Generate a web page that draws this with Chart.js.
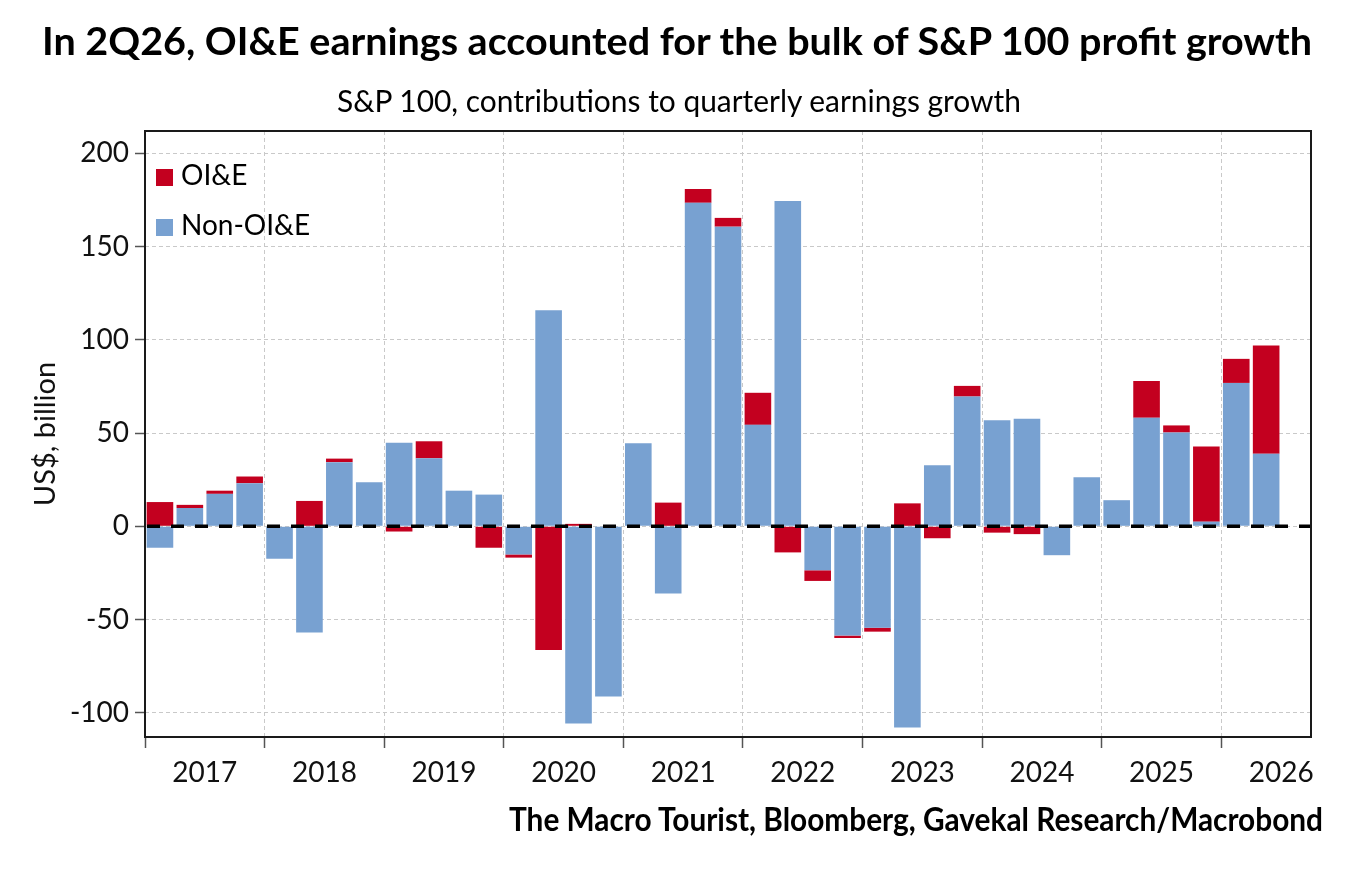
<!DOCTYPE html>
<html>
<head>
<meta charset="utf-8">
<script src="https://cdn.jsdelivr.net/npm/chart.js@4.4.1/dist/chart.umd.min.js"></script>
<style>
  body { margin: 0; background: #fff; }
  #wrap { position: relative; width: 1352px; height: 874px; overflow: hidden; font-family: Lato, "Open Sans", sans-serif; color: #000; }
  #wrap canvas { position: absolute; left: 0; top: 0; }
  .fit { position: absolute; white-space: nowrap; line-height: 1; transform-origin: 0 0; }
  #title { left: 42px; top: 21px; font-size: 38px; font-weight: 700; }
  #subtitle { left: 337px; top: 85px; font-size: 30px; }
  #source { left: 509px; top: 803px; font-size: 32px; font-weight: 700; }
  #legend { position: absolute; left: 156px; top: 160px; font-size: 28px; line-height: 1; }
  #legend div { position: relative; height: 50px; padding-left: 25px; white-space: nowrap; }
  #legend span { position: absolute; left: 0; top: 9px; width: 17px; height: 17px; }
</style>
</head>
<body>
<div id="wrap">
  <canvas id="chart" width="1352" height="874"></canvas>
  <div id="title" class="fit" data-w="1270">In 2Q26, OI&amp;E earnings accounted for the bulk of S&amp;P 100 profit growth</div>
  <div id="subtitle" class="fit" data-w="684">S&amp;P 100, contributions to quarterly earnings growth</div>
  <div id="legend">
    <div><span style="background:#c3001f"></span>OI&amp;E</div>
    <div><span style="background:#78a1d1"></span>Non-OI&amp;E</div>
  </div>
  <div id="source" class="fit" data-w="814">The Macro Tourist, Bloomberg, Gavekal Research/Macrobond</div>
</div>
<script>
var quarters = ['1Q17', '2Q17', '3Q17', '4Q17', '1Q18', '2Q18', '3Q18', '4Q18',
                '1Q19', '2Q19', '3Q19', '4Q19', '1Q20', '2Q20', '3Q20', '4Q20',
                '1Q21', '2Q21', '3Q21', '4Q21', '1Q22', '2Q22', '3Q22', '4Q22',
                '1Q23', '2Q23', '3Q23', '4Q23', '1Q24', '2Q24', '3Q24', '4Q24',
                '1Q25', '2Q25', '3Q25', '4Q25', '1Q26', '2Q26', '3Q26'];
var nonOie = [-11.5, 9.8, 17.4, 23.1, -17.4, -56.9, 34.4, 23.6,
              44.8, 36.5, 19.1, 17.0, -15.1, 115.9, -105.7, -91.3,
              44.6, -36.1, 173.5, 160.7, 54.4, 174.5, -23.6, -58.6,
              -54.4, -107.9, 32.7, 69.6, 56.9, 57.7, -15.5, 26.3,
              14.0, 58.2, 50.3, 2.5, 76.9, 38.9, null];
var oie = [13.0, 1.7, 1.7, 3.6, 0, 13.6, 1.9, 0,
           -2.8, 9.1, 0, -11.5, -1.7, -66.3, 1.3, 0,
           0, 12.7, 7.4, 4.7, 17.2, -14.0, -5.7, -1.3,
           -2.1, 12.3, -6.4, 5.7, -3.4, -4.2, 0, 0,
           0, 19.7, 3.8, 40.3, 12.9, 58.0, null];
var yTicks = [-100, -50, 0, 50, 100, 150, 200];

// stretch/squeeze the html text lines to the widths of the original
document.querySelectorAll('.fit').forEach(function(el) {
    var w = el.getBoundingClientRect().width;
    el.style.transform = 'scaleX(' + (el.dataset.w / w) + ')';
});

var frame = {
    id: 'frame',
    afterDatasetsDraw: function(chart) {
        var ctx = chart.ctx, a = chart.chartArea;
        var y0 = chart.scales.y.getPixelForValue(0);
        ctx.save();
        ctx.strokeStyle = '#000';
        ctx.lineWidth = 3.5;
        ctx.setLineDash([13, 11]);
        ctx.beginPath();
        ctx.moveTo(a.left + 2, y0);
        ctx.lineTo(a.right, y0);
        ctx.stroke();
        ctx.setLineDash([]);
        ctx.lineWidth = 2;
        ctx.strokeStyle = '#1a1a1a';
        ctx.strokeRect(a.left, a.top, a.right - a.left, a.bottom - a.top);
        ctx.restore();
    }
};

var gridGray = '#c9c9c9';
var tickGray = '#555';

new Chart(document.getElementById('chart'), {
    type: 'bar',
    data: {
        labels: quarters,
        datasets: [{
            label: 'Non-OI&E',
            data: nonOie,
            backgroundColor: '#78a1d1',
            barPercentage: 0.89,
            categoryPercentage: 1.0
        }, {
            label: 'OI&E',
            data: oie,
            backgroundColor: '#c3001f',
            barPercentage: 0.89,
            categoryPercentage: 1.0
        }]
    },
    options: {
        responsive: false,
        animation: false,
        layout: { padding: { left: 0, top: 131, right: 41, bottom: 0 } },
        plugins: {
            legend: { display: false },
            tooltip: { enabled: false }
        },
        scales: {
            x: {
                stacked: true,
                offset: true,
                afterFit: function(scale) { scale.height = 137; },
                grid: {
                    offset: true,
                    color: function(c) { return c.index % 4 === 0 ? gridGray : 'rgba(0,0,0,0)'; },
                    tickColor: function(c) { return c.index % 4 === 0 ? tickGray : 'rgba(0,0,0,0)'; },
                    tickLength: 11,
                    tickWidth: 1.5,
                    lineWidth: 1
                },
                border: { display: false, dash: [4, 3] },
                ticks: {
                    autoSkip: false,
                    maxRotation: 0,
                    padding: 8,
                    labelOffset: 15,
                    color: '#111',
                    font: { family: 'Lato', size: 28 },
                    callback: function(v, i) {
                        return i % 4 === 1 ? '20' + quarters[i].slice(2) : '';
                    }
                }
            },
            y: {
                stacked: true,
                min: -113,
                max: 212,
                afterFit: function(scale) { scale.width = 145; },
                afterBuildTicks: function(scale) {
                    scale.ticks = yTicks.map(function(v) { return { value: v }; });
                },
                grid: {
                    color: gridGray,
                    tickColor: tickGray,
                    tickLength: 10,
                    tickWidth: 1.5,
                    lineWidth: 1
                },
                border: { display: false, dash: [4, 3] },
                ticks: {
                    padding: 6,
                    color: '#111',
                    font: { family: 'Lato', size: 28 }
                },
                title: {
                    display: true,
                    text: 'US$, billion',
                    color: '#111',
                    font: { family: 'Lato', size: 29 },
                    padding: { top: 28, bottom: 0 }
                }
            }
        }
    },
    plugins: [frame]
});
</script>
</body>
</html>
